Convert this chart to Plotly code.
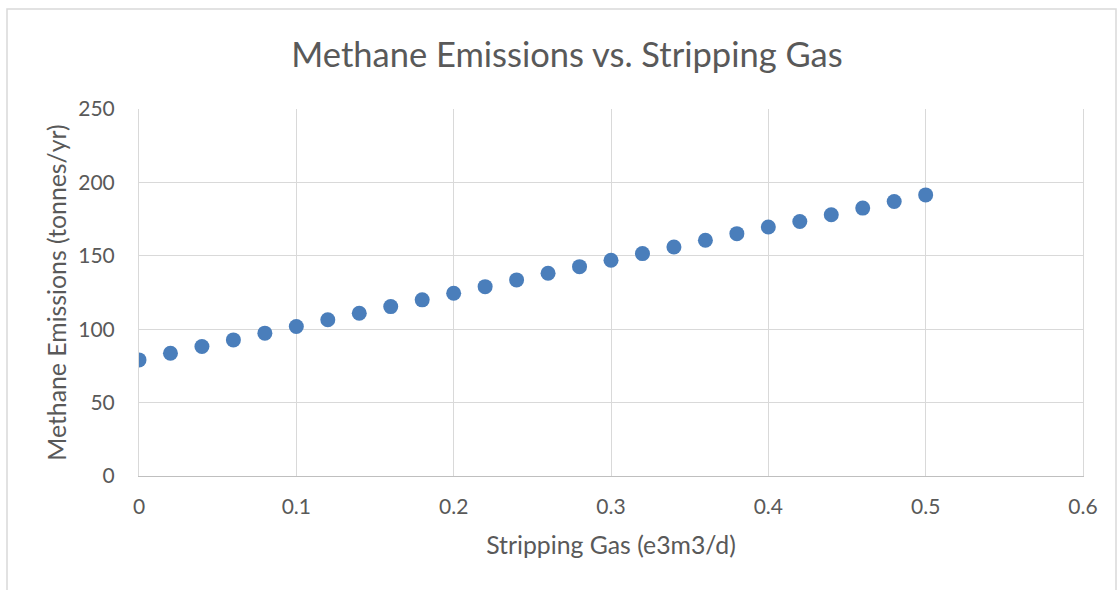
import plotly.graph_objects as go

# Stripping gas rate (e3m3/d) and resulting methane emissions (tonnes/yr)
stripping_gas = [0.00, 0.02, 0.04, 0.06, 0.08, 0.10, 0.12, 0.14, 0.16, 0.18,
                 0.20, 0.22, 0.24, 0.26, 0.28, 0.30, 0.32, 0.34, 0.36, 0.38,
                 0.40, 0.42, 0.44, 0.46, 0.48, 0.50]
methane_emissions = [79.1, 83.6, 88.2, 92.7, 97.3, 101.8, 106.4, 110.9, 115.4, 120.0,
                     124.5, 129.0, 133.6, 138.1, 142.6, 147.0, 151.5, 156.0, 160.6, 165.1,
                     169.6, 173.4, 178.0, 182.5, 187.0, 191.5]

x_ticks = [0, 0.1, 0.2, 0.3, 0.4, 0.5, 0.6]
x_tick_labels = ["0", "0.1", "0.2", "0.3", "0.4", "0.5", "0.6"]
y_ticks = [0, 50, 100, 150, 200, 250]

FONT = "Lato"
TEXT = "#595959"
GRID = "#d9d9d9"

fig = go.Figure()
fig.add_trace(go.Scatter(
    x=stripping_gas, y=methane_emissions, mode="markers",
    marker=dict(size=15, color="#4a7ebb", line=dict(width=0)),
    showlegend=False, hoverinfo="x+y",
))

fig.update_layout(
    width=1117, height=590,
    margin=dict(l=139, r=34, t=109, b=114),
    paper_bgcolor="white", plot_bgcolor="white",
    font=dict(family=FONT, color=TEXT, size=21),
    title=dict(text="Methane Emissions vs. Stripping Gas",
               x=567 / 1117, xanchor="center", xref="container",
               y=1 - 55 / 590, yanchor="middle", yref="container",
               font=dict(family=FONT, size=34.5, color=TEXT)),
    xaxis=dict(
        range=[0, 0.6], tickvals=x_ticks, ticktext=x_tick_labels,
        showgrid=True, gridcolor=GRID, gridwidth=1,
        showline=True, linecolor="#bfbfbf", linewidth=1,
        zeroline=False, ticks="", ticklabelstandoff=12,
        tickfont=dict(size=21, color=TEXT),
        title=dict(text="Stripping Gas (e3m3/d)", standoff=19,
                   font=dict(size=24.8, color=TEXT)),
    ),
    yaxis=dict(
        range=[0, 250], tickvals=y_ticks,
        showgrid=True, gridcolor=GRID, gridwidth=1,
        showline=True, linecolor=GRID, linewidth=1, mirror=True,
        zeroline=False, ticks="", ticklabelstandoff=19,
        tickfont=dict(size=21, color=TEXT),
        title=dict(text="Methane Emissions (tonnes/yr)", standoff=4,
                   font=dict(size=24.8, color=TEXT)),
    ),
)

# Chart-area frame
fig.add_shape(type="rect", xref="paper", yref="paper",
              x0=(7 - 139) / 944, x1=(1116 - 139) / 944,
              y0=(476 - 640) / 367, y1=(476 - 9) / 367,
              line=dict(color=GRID, width=1.5), fillcolor="rgba(0,0,0,0)",
              layer="below")

fig.write_html("out.html")
